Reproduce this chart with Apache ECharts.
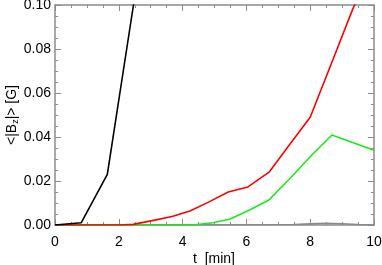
<!DOCTYPE html>
<html><head><meta charset="utf-8">
<script src="https://cdn.jsdelivr.net/npm/echarts@6/dist/echarts.min.js"></script>
<style>html,body{margin:0;padding:0;background:#fff}#c{width:382px;height:265px}</style>
</head><body><div id="c"></div>
<script>
var xTicks = [0, 2, 4, 6, 8, 10];
var yTicks = [0.00, 0.02, 0.04, 0.06, 0.08, 0.10];
var xTitle = 't  [min]';
var yTitle = '<|B{sub|z}|> [G]';

var blackT = [0, 0.82, 1.64, 2.46, 3.28];
var blackV = [0, 0.001, 0.023, 0.100, 0.180];

var redT = [0, 2.0, 2.45, 3.05, 3.67, 4.23, 4.83, 5.43, 6.05, 6.71, 7.35, 8.0, 8.68, 9.33, 10];
var redV = [0, 0, 0.0003, 0.002, 0.0039, 0.0064, 0.0105, 0.015, 0.0173, 0.024, 0.0365, 0.049, 0.074, 0.098, 0.12];

var greenT = [0, 4.3, 4.95, 5.49, 6.1, 6.71, 7.35, 8.0, 8.68, 9.33, 10];
var greenV = [0, 0, 0.001, 0.0027, 0.0068, 0.0114, 0.0209, 0.031, 0.0409, 0.0375, 0.034];

var grayT = [0, 7.5, 8.0, 8.5, 9.0, 9.5, 10];
var grayV = [0, 0.0002, 0.0005, 0.0008, 0.0006, 0.0002, 0];

function pairs(t, v) { return t.map(function (x, i) { return [x, v[i]]; }); }

var frame = '#8c8c8c';
var font = 'Liberation Sans, Arial, sans-serif';

function xAx(pos, show) {
  return {
    type: 'value', position: pos, min: 0, max: 10, interval: 2,
    axisLine: { show: true, onZero: false, lineStyle: { color: frame, width: 1.5 } },
    axisTick: { show: true, inside: true, length: 6, lineStyle: { color: frame } },
    minorTick: { show: true, splitNumber: 4, length: 3, lineStyle: { color: frame } },
    splitLine: { show: false },
    axisLabel: { show: show, color: '#000', fontSize: 14, fontFamily: font, margin: 10 }
  };
}
function yAx(pos, show) {
  return {
    type: 'value', position: pos, min: 0, max: 0.1, interval: 0.02,
    axisLine: { show: true, onZero: false, lineStyle: { color: frame, width: 1.5 } },
    axisTick: { show: true, inside: true, length: 6, lineStyle: { color: frame } },
    minorTick: { show: true, splitNumber: 4, length: 3, lineStyle: { color: frame } },
    splitLine: { show: false },
    axisLabel: { show: show, color: '#000', fontSize: 14, fontFamily: font, margin: 4,
      formatter: function (v) { return v.toFixed(2); } }
  };
}

function line(t, v, color, z) {
  return { type: 'line', data: pairs(t, v), showSymbol: false, symbol: 'none',
    lineStyle: { color: color, width: 1.6 }, itemStyle: { color: color },
    clip: true, z: z, animation: false, xAxisIndex: 0, yAxisIndex: 0 };
}

var chart = echarts.init(document.getElementById('c'), null, { renderer: 'canvas' });
chart.setOption({
  animation: false,
  grid: { left: 55, right: 8, top: 5, bottom: 40, containLabel: false, outerBoundsMode: 'none' },
  xAxis: [xAx('bottom', true), xAx('top', false)],
  yAxis: [yAx('left', true), yAx('right', false)],
  graphic: [
    { type: 'text', x: 214, y: 259, style: { text: xTitle, fill: '#000', font: '14px ' + font,
      align: 'center', verticalAlign: 'middle' } },
    { type: 'text', x: 12, y: 115, rotation: Math.PI / 2, style: { text: yTitle, fill: '#000',
      font: '14px ' + font, align: 'center', verticalAlign: 'middle',
      rich: { sub: { fontSize: 9, fontFamily: font, fill: '#000', padding: [7, 0, 0, 0] } } } }
  ],
  series: [
    line(grayT, grayV, '#8a8a8a', 1),
    line(greenT, greenV, '#1ee81e', 2),
    line(redT, redV, '#ff0000', 3),
    line(blackT, blackV, '#000000', 4)
  ]
});
</script></body></html>
